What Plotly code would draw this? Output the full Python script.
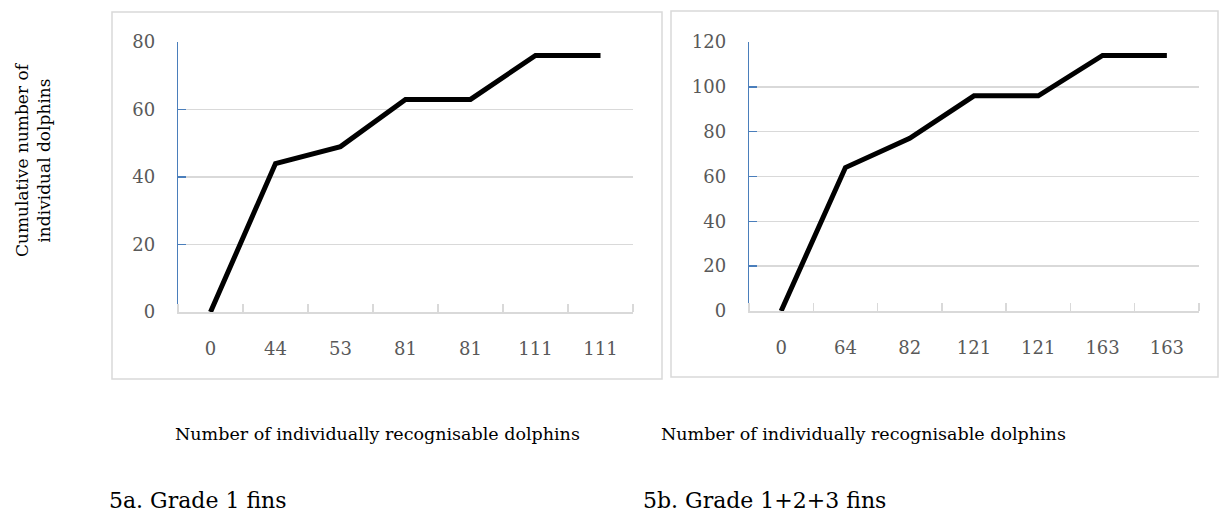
import plotly.graph_objects as go

# ---- data ----
cats_a = ["0", "44", "53", "81", "81", "111", "111"]
vals_a = [0, 44, 49, 63, 63, 76, 76]
cats_b = ["0", "64", "82", "121", "121", "163", "163"]
vals_b = [0, 64, 77, 96, 96, 114, 114]
yticks_a = [0, 20, 40, 60, 80]
yticks_b = [0, 20, 40, 60, 80, 100, 120]

W, H = 1219, 513
FONT = "DejaVu Serif"
GRID = "#d9d9d9"
TICKC = "#595959"
BLUE = "#4a7ebb"

def px(x):
    return x / W

def py(y):
    return 1 - y / H

fig = go.Figure()
idx_a = list(range(len(cats_a)))
idx_b = list(range(len(cats_b)))

fig.add_trace(go.Scatter(x=idx_a, y=vals_a, mode="lines", xaxis="x", yaxis="y",
                         line=dict(color="black", width=5), showlegend=False,
                         hoverinfo="x+y"))
fig.add_trace(go.Scatter(x=idx_b, y=vals_b, mode="lines", xaxis="x2", yaxis="y2",
                         line=dict(color="black", width=5), showlegend=False,
                         hoverinfo="x+y"))

def xaxis(domain, anchor, n, labels):
    return dict(
        domain=domain, anchor=anchor, range=[-0.5, n - 0.5],
        tickmode="array", tickvals=list(range(n)), ticktext=labels,
        ticks="", showgrid=False, zeroline=False, automargin=False,
        showline=True, linecolor=GRID, linewidth=1.5,
        tickfont=dict(family=FONT, size=18, color=TICKC),
        ticklabelstandoff=20,
        minor=dict(tickmode="array", tickvals=[i - 0.5 for i in range(n + 1)],
                   ticks="inside", ticklen=8, tickcolor=GRID, tickwidth=1.5,
                   showgrid=False),
        fixedrange=True,
    )

def yaxis(domain, anchor, rng, tv):
    return dict(
        domain=domain, anchor=anchor, range=rng,
        tickmode="array", tickvals=tv,
        ticks="inside", ticklen=8, tickcolor=BLUE, tickwidth=1.5,
        showgrid=True, gridcolor=GRID, gridwidth=1.5, zeroline=False,
        automargin=False,
        showline=True, linecolor=BLUE, linewidth=1.2,
        tickfont=dict(family=FONT, size=18, color=TICKC),
        ticklabelstandoff=18,
        fixedrange=True,
    )

fig.update_layout(
    width=W, height=H, autosize=False,
    margin=dict(l=0, r=0, t=0, b=0, pad=0, autoexpand=False),
    paper_bgcolor="white", plot_bgcolor="white",
    showlegend=False,
    xaxis=xaxis([px(178), px(633)], "y", len(cats_a), cats_a),
    yaxis=yaxis([py(312), py(42)], "x", [0, 80], yticks_a),
    xaxis2=xaxis([px(749), px(1199)], "y2", len(cats_b), cats_b),
    yaxis2=yaxis([py(311), py(42)], "x2", [0, 120], yticks_b),
    shapes=[
        dict(type="rect", xref="paper", yref="paper",
             x0=px(112), x1=px(662), y0=py(379), y1=py(12),
             line=dict(color=GRID, width=1.5), fillcolor="rgba(0,0,0,0)", layer="below"),
        dict(type="rect", xref="paper", yref="paper",
             x0=px(671), x1=px(1218), y0=py(377), y1=py(11),
             line=dict(color=GRID, width=1.5), fillcolor="rgba(0,0,0,0)", layer="below"),
    ],
    annotations=[
        dict(text="Cumulative number of<br>individual dolphins", xref="paper", yref="paper",
             x=px(33), y=py(160), textangle=-90, showarrow=False,
             font=dict(family=FONT, size=17, color="black"), xanchor="center", yanchor="middle"),
        dict(text="Number of individually recognisable dolphins", xref="paper", yref="paper",
             x=px(377), y=py(434), showarrow=False,
             font=dict(family=FONT, size=17.5, color="black"), xanchor="center", yanchor="middle"),
        dict(text="Number of individually recognisable dolphins", xref="paper", yref="paper",
             x=px(863), y=py(434), showarrow=False,
             font=dict(family=FONT, size=17.5, color="black"), xanchor="center", yanchor="middle"),
        dict(text="5a. Grade 1 fins", xref="paper", yref="paper",
             x=px(107), y=py(500), showarrow=False,
             font=dict(family=FONT, size=22, color="black"), xanchor="left", yanchor="middle"),
        dict(text="5b. Grade 1+2+3 fins", xref="paper", yref="paper",
             x=px(641), y=py(500), showarrow=False,
             font=dict(family=FONT, size=22, color="black"), xanchor="left", yanchor="middle"),
    ],
)

fig.write_html("out.html", config={"displayModeBar": False, "staticPlot": True})

# remove default page margin so the figure sits at the window origin
with open("out.html", "r", encoding="utf-8") as f:
    html = f.read()
html = html.replace("<body>", '<body style="margin:0;padding:0;overflow:hidden">', 1)
with open("out.html", "w", encoding="utf-8") as f:
    f.write(html)
